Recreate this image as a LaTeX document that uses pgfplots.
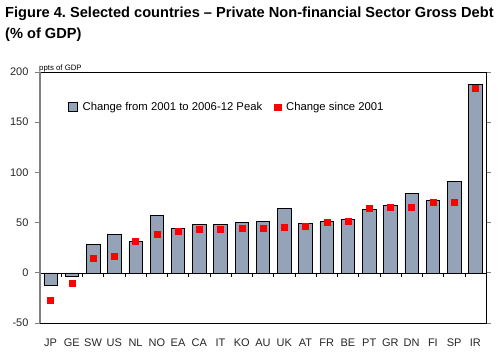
\documentclass[border=0pt]{standalone}
\usepackage{pgfplots}
\pgfplotsset{compat=1.18}
\usepackage{fontspec}
\setmainfont{Liberation Sans}
\frenchspacing
\definecolor{barfill}{HTML}{95A3B8}
\definecolor{axgray}{HTML}{808080}
\pgfplotstableread{
x lab bar dot
0 JP -12 -27
1 GE -3 -10
2 SW 28 15
3 US 38 17
4 NL 31 31
5 NO 57 38
6 EA 44 41
7 CA 48 43
8 IT 48 43
9 KO 50 44
10 AU 51 44
11 UK 64 45
12 AT 49 46
13 FR 51 50
14 BE 53 51
15 PT 63 64
16 GR 67 65
17 DN 79 65
18 FI 72 70
19 SP 91 70
20 IR 188 184
}\datatable
\begin{document}
\begin{tikzpicture}
\useasboundingbox (0pt,0pt) rectangle (500pt,357pt);
\node[anchor=base west,inner sep=0pt,font=\bfseries\fontsize{14.6}{16}\selectfont] at (5pt,339.5pt) {Figure 4. Selected countries -- Private Non-financial Sector Gross Debt};
\node[anchor=base west,inner sep=0pt,font=\bfseries\fontsize{14.6}{16}\selectfont] at (5pt,318pt) {(\% of GDP)};
\begin{axis}[
  at={(40pt,34pt)}, anchor=south west,
  scale only axis, width=446pt, height=251pt,
  xmin=-0.5, xmax=20.5, ymin=-50, ymax=200,
  ytick={-50,0,50,100,150,200},
  xtick=data,
  xticklabels from table={\datatable}{lab},
  x tick style={draw=none},
  y tick style={draw=axgray, line width=0.8pt},
  tick align=outside,
  major tick length=5pt,
  axis line style={black, line width=0.6pt},
  ticklabel style={font=\fontsize{11}{12}\selectfont, text=black!85},
  /pgf/number format/assume math mode=true,
  xticklabel style={yshift=-7pt},
  yticklabel style={xshift=-3pt},
  clip=false,
  legend style={at={(rel axis cs:0,1)}, anchor=west, xshift=28pt, yshift=-35pt,
     draw=none, fill=none, inner sep=0pt, outer sep=0pt,
     legend columns=2, font=\fontsize{11.3}{12}\selectfont,
     /tikz/every even column/.append style={column sep=10pt},
     /tikz/every odd column/.append style={column sep=3pt}},
  legend cell align=left,
]
\addplot[ybar, bar width=13.5pt, fill=barfill, draw=black, line width=0.6pt,
  legend image code/.code={\draw[fill=barfill,draw=black,line width=0.6pt] (0pt,-4.5pt) rectangle (9pt,4.5pt);}] table[x=x,y=bar]{\datatable};
\addlegendentry{Change from 2001 to 2006-12 Peak}
\addplot[only marks, mark=square*, mark size=3pt, color=red,
  legend image code/.code={\fill[red] (0pt,-2.8pt) rectangle (6.5pt,2.8pt);}] table[x=x,y=dot]{\datatable};
\addlegendentry{Change since 2001}
\draw[black, line width=0.6pt] (axis cs:-0.5,0) -- (axis cs:20.5,0);
\pgfplotsinvokeforeach{0,...,20}{\draw[black,line width=0.5pt] (axis cs:#1+0.5,0) -- ([yshift=-4.5pt]axis cs:#1+0.5,0);}
\draw[axgray, line width=1.5pt] (rel axis cs:0,0) -- (rel axis cs:0,1);
\node[anchor=base west, font=\fontsize{7.8}{8}\selectfont, inner sep=0pt] at ([yshift=2pt,xshift=-1pt]rel axis cs:0,1) {ppts of GDP};
\end{axis}
\end{tikzpicture}
\end{document}
